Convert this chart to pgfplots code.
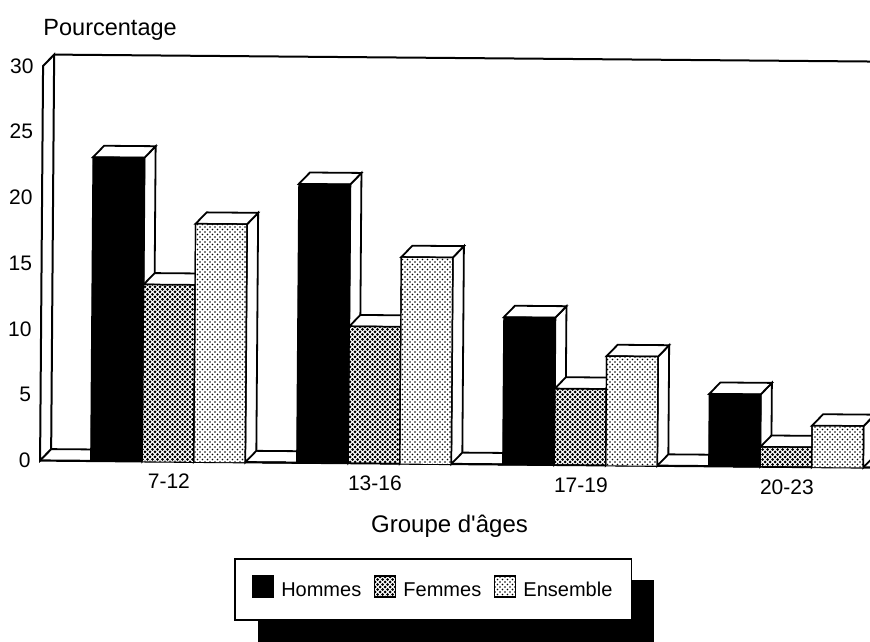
\documentclass[border=0pt]{standalone}
\usepackage{fontspec}
\setmainfont[Ligatures=TeXOff]{Liberation Sans}
\usepackage{pgfplots}
\pgfplotsset{compat=1.18}
\usetikzlibrary{patterns}
\pgfdeclarepatternformonly{femdots}{\pgfqpoint{-2pt}{-2pt}}{\pgfqpoint{6pt}{6pt}}{\pgfqpoint{5pt}{5pt}}{%
  \pgfpathcircle{\pgfqpoint{0pt}{0pt}}{1.5pt}\pgfpathcircle{\pgfqpoint{2.5pt}{2.5pt}}{1.5pt}\pgfusepath{fill}}
\pgfdeclarepatternformonly{ensdots}{\pgfqpoint{-1pt}{-1pt}}{\pgfqpoint{6pt}{6pt}}{\pgfqpoint{5pt}{5pt}}{%
  \pgfpathcircle{\pgfqpoint{0pt}{0pt}}{0.95pt}\pgfpathcircle{\pgfqpoint{2.5pt}{2.5pt}}{0.95pt}\pgfusepath{fill}}
\newcommand{\depth}[3]{% bar left x, bar right x, value
  \pgfmathsetmacro{\xr}{#2+0.0534}\pgfmathsetmacro{\xl}{#1+0.0534}\pgfmathsetmacro{\vt}{#3+0.875}%
  \edef\temp{\noexpand\addplot[fill=white,draw=black,line width=1.8pt,forget plot] coordinates {(#2,0) (\xr,0.875) (\xr,\vt) (#2,#3)} -- cycle;
  \noexpand\addplot[fill=white,draw=black,line width=1.8pt,forget plot] coordinates {(#1,#3) (\xl,\vt) (\xr,\vt) (#2,#3)} -- cycle;}\temp}
\begin{document}
\begin{tikzpicture}
\clip (0,0) rectangle (870pt,642pt);
\fill[black] (258pt,0pt) rectangle (654pt,62pt);
\begin{axis}[
  at={(168pt,180.4pt)}, anchor=origin,
  x={(206pt,-1.75pt)}, y={(0.1pt,13.15pt)},
  xmin=-0.621, xmax=3.408, ymin=0, ymax=30,
  clip=false,
  axis line style={draw=none},
  major tick style={draw=none},
  xtick={0,1,2,3}, xticklabels={7-12,13-16,17-19,20-23},
  ytick={0,5,10,15,20,25,30},
  tick label style={font=\fontsize{21}{23}\selectfont},
  /pgf/number format/assume math mode=true,
  xticklabel style={yshift=-9pt,xshift=1pt},
  yticklabel style={xshift=-6pt},
  legend style={at={(axis cs:1.291,-7.16)},anchor=north,draw=black,line width=1.8pt,
    font=\fontsize{20}{24}\selectfont,legend columns=3,
    inner xsep=17pt,inner ysep=16.5pt,
    nodes={text depth=5pt},
    /tikz/every even column/.append style={column sep=11pt},
    /tikz/every odd column/.append style={column sep=5pt}},
  legend image code/.code={\draw[#1,line width=1.2pt] (0pt,-5pt) rectangle (21pt,16pt);},
]
% left wall, back wall, floor
\addplot[fill=white,draw=black,line width=2pt,forget plot] coordinates {(-0.621,0) (-0.621,30) (-0.5676,30.875) (-0.5676,0.875)} -- cycle;
\addplot[draw=black,line width=2pt,forget plot] coordinates {(-0.5676,30.875) (3.408,30.875)};
\addplot[draw=black,line width=1.8pt,forget plot] coordinates {(-0.5676,0.875) (3.408,0.875)};
\addplot[draw=black,line width=2.2pt,forget plot] coordinates {(-0.621,0) (3.408,0)};
% Hommes
\depth{-0.375}{-0.125}{23.1}
\depth{0.625}{0.875}{21.2}
\depth{1.625}{1.875}{11.2}
\depth{2.625}{2.875}{5.5}
\addplot[fill=black,draw=black,line width=1.2pt] coordinates {(-0.375,0) (-0.375,23.1) (-0.125,23.1) (-0.125,0) (0.625,0) (0.625,21.2) (0.875,21.2) (0.875,0) (1.625,0) (1.625,11.2) (1.875,11.2) (1.875,0) (2.625,0) (2.625,5.5) (2.875,5.5) (2.875,0)};
% Femmes
\depth{-0.125}{0.125}{13.45}
\depth{0.875}{1.125}{10.4}
\depth{1.875}{2.125}{5.8}
\depth{2.875}{3.125}{1.5}
\addplot[draw=black,line width=1.2pt,preaction={fill=white},pattern=femdots] coordinates {(-0.125,0) (-0.125,13.45) (0.125,13.45) (0.125,0) (0.875,0) (0.875,10.4) (1.125,10.4) (1.125,0) (1.875,0) (1.875,5.8) (2.125,5.8) (2.125,0) (2.875,0) (2.875,1.5) (3.125,1.5) (3.125,0)};
% Ensemble
\depth{0.125}{0.375}{18.1}
\depth{1.125}{1.375}{15.7}
\depth{2.125}{2.375}{8.3}
\depth{3.125}{3.375}{3.15}
\addplot[draw=black,line width=1.2pt,preaction={fill=white},pattern=ensdots] coordinates {(0.125,0) (0.125,18.1) (0.375,18.1) (0.375,0) (1.125,0) (1.125,15.7) (1.375,15.7) (1.375,0) (2.125,0) (2.125,8.3) (2.375,8.3) (2.375,0) (3.125,0) (3.125,3.15) (3.375,3.15) (3.375,0)};
\legend{Hommes,Femmes,Ensemble}
\node[font=\fontsize{23.5}{26}\selectfont] at (axis cs:-0.297,32.8) {Pourcentage};
\node[font=\fontsize{24}{26}\selectfont] at (axis cs:1.369,-4.7) {Groupe d'âges};
\end{axis}
\end{tikzpicture}
\end{document}
